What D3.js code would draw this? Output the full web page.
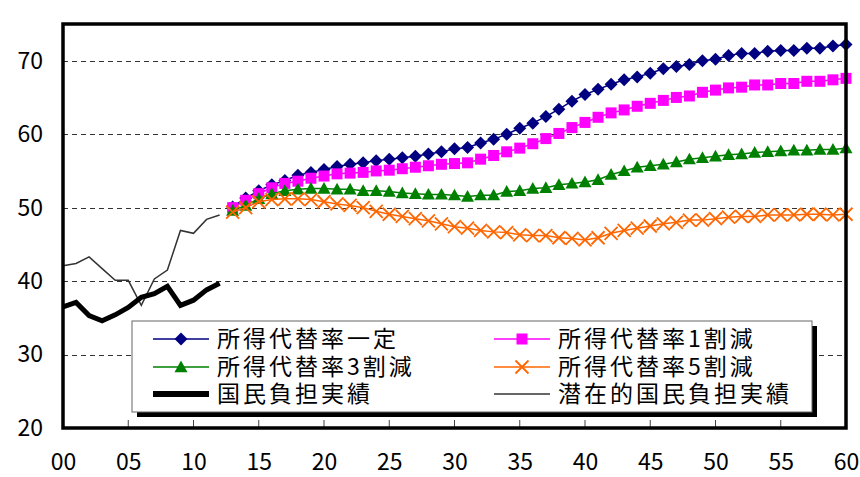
<!DOCTYPE html>
<html>
<head>
<meta charset="utf-8">
<script src="https://cdn.jsdelivr.net/npm/d3@7"></script>
<style>
  html, body { margin: 0; padding: 0; background: #fff; }
  svg { display: block; }
  text { font-family: "Noto Sans CJK JP", "Noto Sans", sans-serif; }
</style>
</head>
<body>
<svg id="chart" width="860" height="477"></svg>
<script>
// 国民負担率の推移と将来見通し（%）
const actualYears = d3.range(2000, 2013);
const projYears = d3.range(2013, 2061);

// 実績
const burdenActual = [36.5, 37.1, 35.3, 34.6, 35.4, 36.4, 37.8, 38.3, 39.3, 36.7, 37.4, 38.8, 39.7];
const potentialActual = [42.1, 42.4, 43.3, 41.7, 40.1, 40.1, 36.7, 40.3, 41.5, 46.9, 46.5, 48.4, 49.0];

// 見通し（2013〜2060）
const rateFixed = [50.1, 51.3, 52.3, 53.1, 53.7, 54.4, 54.8, 55.2, 55.6, 55.9, 56.1, 56.4, 56.6, 56.8, 57.0, 57.3, 57.6, 58.0, 58.2, 58.8, 59.3, 60.0, 60.8, 61.5, 62.4, 63.4, 64.5, 65.4, 66.1, 66.8, 67.4, 67.8, 68.3, 68.9, 69.2, 69.5, 70.0, 70.2, 70.7, 71.0, 71.0, 71.3, 71.4, 71.4, 71.7, 71.7, 72.0, 72.2];
const rateCut10 = [50.0, 51.0, 51.9, 52.7, 53.3, 53.6, 54.0, 54.3, 54.6, 54.7, 54.8, 55.0, 55.1, 55.3, 55.5, 55.7, 55.9, 56.0, 56.1, 56.6, 57.1, 57.6, 58.1, 58.7, 59.4, 60.1, 60.9, 61.6, 62.3, 62.9, 63.3, 63.8, 64.2, 64.6, 65.0, 65.2, 65.7, 66.0, 66.3, 66.4, 66.7, 66.7, 66.9, 66.9, 67.2, 67.2, 67.4, 67.6];
const rateCut30 = [49.6, 50.3, 51.2, 51.9, 52.3, 52.5, 52.6, 52.6, 52.5, 52.5, 52.3, 52.3, 52.2, 52.0, 51.9, 51.8, 51.8, 51.7, 51.5, 51.7, 51.7, 52.2, 52.3, 52.6, 52.7, 53.1, 53.3, 53.5, 53.8, 54.5, 55.0, 55.5, 55.7, 55.9, 56.2, 56.6, 56.8, 57.0, 57.2, 57.3, 57.5, 57.6, 57.7, 57.8, 57.8, 57.9, 57.9, 58.1];
const rateCut50 = [49.4, 50.0, 50.8, 51.1, 51.2, 51.2, 51.1, 50.8, 50.5, 50.3, 50.0, 49.5, 49.1, 48.8, 48.5, 48.2, 47.8, 47.4, 47.2, 46.9, 46.7, 46.6, 46.3, 46.2, 46.2, 45.9, 45.8, 45.6, 45.9, 46.5, 46.9, 47.2, 47.5, 47.8, 48.0, 48.3, 48.3, 48.5, 48.7, 48.8, 48.8, 49.0, 49.0, 49.0, 49.1, 49.1, 49.0, 49.1];

const yTicks = [20, 30, 40, 50, 60, 70];
const xTicks = d3.range(2000, 2061, 5);
const xTickLabels = ["00", "05", "10", "15", "20", "25", "30", "35", "40", "45", "50", "55", "60"];

const legendNames = ["所得代替率一定", "所得代替率1割減", "所得代替率3割減", "所得代替率5割減", "国民負担実績", "潜在的国民負担実績"];

const svg = d3.select("#chart");
const plotL = 63, plotR = 846, plotT = 24, plotB = 428;

const x = d3.scaleLinear().domain([2000, 2060]).range([plotL, plotR]);
const y = d3.scaleLinear().domain([20, 75]).range([plotB, plotT]);

// 単位（上端で切れている）
svg.append("text")
  .attr("x", 6).attr("y", -3)
  .attr("font-size", 18).attr("fill", "#000")
  .text("（対国民所得比、％）");

// 目盛線
svg.append("g").selectAll("line")
  .data(yTicks.filter(d => d > 20 && d < 75))
  .join("line")
  .attr("x1", plotL).attr("x2", plotR)
  .attr("y1", d => Math.round(y(d)) + 0.5).attr("y2", d => Math.round(y(d)) + 0.5)
  .attr("stroke", "#333").attr("stroke-width", 1)
  .attr("stroke-dasharray", "5,4");

// 下軸の内向き目盛
svg.append("g").selectAll("line")
  .data(xTicks)
  .join("line")
  .attr("x1", d => x(d)).attr("x2", d => x(d))
  .attr("y1", plotB).attr("y2", plotB - 8)
  .attr("stroke", "#444").attr("stroke-width", 1);

// Y軸ラベル
const yAxis = d3.axisLeft(y).tickValues(yTicks).tickSize(0).tickPadding(20).tickFormat(d3.format("d"));
const gy = svg.append("g").attr("transform", `translate(${plotL},0)`).call(yAxis);
gy.select(".domain").remove();
gy.selectAll("text").attr("font-size", 23).attr("fill", "#000")
  .style("font-family", "'Noto Sans CJK JP', sans-serif");

// X軸ラベル
const xAxis = d3.axisBottom(x).tickValues(xTicks).tickSize(0).tickPadding(26)
  .tickFormat((d, i) => xTickLabels[i]);
const gx = svg.append("g").attr("transform", `translate(0,${plotB})`).call(xAxis);
gx.select(".domain").remove();
gx.selectAll("text").attr("font-size", 23).attr("fill", "#000")
  .style("font-family", "'Noto Sans CJK JP', sans-serif");

const line = d3.line().x(d => x(d[0])).y(d => y(d[1]));
const zip = (years, vals) => years.map((yr, i) => [yr, vals[i]]);

// 記号
function drawMarker(g, type, color, size) {
  if (type === "diamond") {
    const r = size / 2;
    g.append("path").attr("d", `M0,${-r}L${r},0L0,${r}L${-r},0Z`).attr("fill", color);
  } else if (type === "square") {
    g.append("rect").attr("x", -size / 2).attr("y", -size / 2).attr("width", size).attr("height", size).attr("fill", color);
  } else if (type === "triangle") {
    const r = size / 2;
    g.append("path").attr("d", `M0,${-r}L${r},${r * 0.8}L${-r},${r * 0.8}Z`).attr("fill", color);
  } else if (type === "x") {
    const r = size / 2;
    g.append("path").attr("d", `M${-r},${-r}L${r},${r}M${r},${-r}L${-r},${r}`)
      .attr("stroke", color).attr("stroke-width", 1.8).attr("fill", "none");
  }
}

const series = [
  { name: legendNames[0], vals: rateFixed, color: "#000080", marker: "diamond", size: 13 },
  { name: legendNames[1], vals: rateCut10, color: "#FF00FF", marker: "square", size: 11 },
  { name: legendNames[2], vals: rateCut30, color: "#008000", marker: "triangle", size: 13 },
  { name: legendNames[3], vals: rateCut50, color: "#FF6600", marker: "x", size: 13 }
];

const plot = svg.append("g");

// 実績線
plot.append("path").datum(zip(actualYears, potentialActual))
  .attr("d", line).attr("fill", "none").attr("stroke", "#333").attr("stroke-width", 1.5);
plot.append("path").datum(zip(actualYears, burdenActual))
  .attr("d", line).attr("fill", "none").attr("stroke", "#000").attr("stroke-width", 5)
  .attr("stroke-linejoin", "miter");

series.forEach(s => {
  const pts = zip(projYears, s.vals);
  plot.append("path").datum(pts).attr("d", line)
    .attr("fill", "none").attr("stroke", s.color).attr("stroke-width", 1.5);
  const mg = plot.append("g");
  pts.forEach(p => {
    const g = mg.append("g").attr("transform", `translate(${x(p[0])},${y(p[1])})`);
    drawMarker(g, s.marker, s.color, s.size);
  });
});

// 枠
svg.append("rect")
  .attr("x", plotL).attr("y", plotT).attr("width", plotR - plotL).attr("height", plotB - plotT)
  .attr("fill", "none").attr("stroke", "#000").attr("stroke-width", 3.5);

// 凡例
const lg = svg.append("g");
const lx = 132, ly = 321, lw = 680, lh = 91;
lg.append("rect").attr("x", lx + 5).attr("y", ly + 5).attr("width", lw).attr("height", lh).attr("fill", "#000");
lg.append("rect").attr("x", lx).attr("y", ly).attr("width", lw).attr("height", lh)
  .attr("fill", "#fff").attr("stroke", "#666").attr("stroke-width", 1);

const legendItems = [
  { name: legendNames[0], color: "#000080", marker: "diamond", size: 13, w: 1.5, col: 0, row: 0 },
  { name: legendNames[1], color: "#FF00FF", marker: "square", size: 11, w: 1.5, col: 1, row: 0 },
  { name: legendNames[2], color: "#008000", marker: "triangle", size: 13, w: 1.5, col: 0, row: 1 },
  { name: legendNames[3], color: "#FF6600", marker: "x", size: 13, w: 1.5, col: 1, row: 1 },
  { name: legendNames[4], color: "#000", marker: null, w: 6, col: 0, row: 2 },
  { name: legendNames[5], color: "#333", marker: null, w: 1.5, col: 1, row: 2 }
];
const colX = [153, 494];
const rowY = [339, 367, 394];
legendItems.forEach(it => {
  const g = lg.append("g").attr("transform", `translate(${colX[it.col]},${rowY[it.row]})`);
  g.append("line").attr("x1", 0).attr("x2", 56).attr("y1", 0).attr("y2", 0)
    .attr("stroke", it.color).attr("stroke-width", it.w);
  if (it.marker) {
    const mg = g.append("g").attr("transform", "translate(28,0)");
    drawMarker(mg, it.marker, it.color, it.size);
  }
  g.append("text").attr("x", 64).attr("y", 0).attr("dy", "0.36em")
    .attr("font-size", 23).attr("letter-spacing", 3).attr("fill", "#000").text(it.name);
});
</script>
</body>
</html>
